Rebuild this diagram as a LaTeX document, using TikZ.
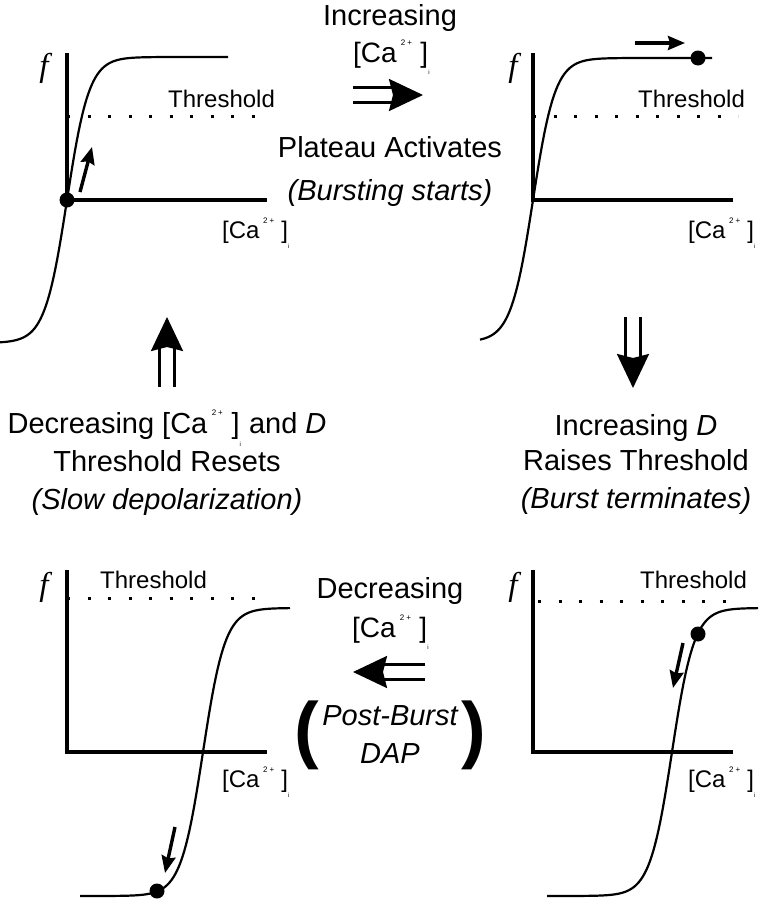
\documentclass[tikz,border=0pt]{standalone}
\usepackage{fontspec}
\setmainfont{Liberation Sans}
\newfontfamily\fserif{Liberation Serif}
\usetikzlibrary{arrows.meta}
% [Ca2+]i as printed on the axes
\newcommand{\cai}{[Ca\hspace{0.15em}\raisebox{0.6em}{\fontsize{8}{8}\selectfont 2\hspace{0.25em}+}\hspace{0.3em}]\raisebox{-0.45em}{\fontsize{6}{6}\selectfont i}}

\begin{document}
\begin{tikzpicture}[x=1pt,y=-1pt,
  axis/.style={line width=3.2pt},
  curve/.style={line width=2.2pt},
  thresh/.style={line width=3pt,dash pattern=on 3pt off 17.5pt},
  dot/.style={circle,fill=black,inner sep=0pt,minimum size=15pt},
  bigarrow/.style={line width=2.6pt,double distance=12pt,-{Stealth[length=34pt,width=32pt,inset=4pt]}},
  smallarrow/.style={line width=3.4pt,-{Stealth[length=17pt,width=14pt,inset=2pt]}},
  lbl/.style={inner sep=0pt,anchor=base west,font=\fontsize{24}{28}\selectfont},
  txt/.style={inner sep=0pt,anchor=base,font=\fontsize{29}{34}\selectfont},
  fl/.style={inner sep=0pt,font=\fontsize{33}{33}\selectfont\fserif\itshape}]
\useasboundingbox (0,0) rectangle (761,900);

% top left: plateau reached
\draw[axis] (67,53) -- (67,200) -- (267,200);
\draw[thresh] (67,116) -- (270,116);
\draw[curve] plot[domain=0:228,samples=120] (\x,{200-143*tanh(0.045*(\x-67))});
\node[dot] (d1) at (67,200) {};
\node[fl] (f1) at (44,68) {f};
\node[lbl] (t1) at (168,107) {Threshold};
\node[lbl] (c1) at (222,238) {\cai};
\coordinate (a1s) at (80,192);
\coordinate (a1e) at (92,147);
\draw[smallarrow] (a1s) -- (a1e);

% top right: bursting
\draw[axis] (533,53) -- (533,200) -- (733,200);
\draw[thresh] (533,116) -- (738,116);
\draw[curve] plot[domain=480:712,samples=120] (\x,{200-142*tanh(0.045*(\x-533))});
\node[dot] (d2) at (698,58) {};
\node[fl] (f2) at (513,68) {f};
\node[lbl] (t2) at (638,107) {Threshold};
\node[lbl] (c2) at (688,238) {\cai};
\coordinate (a2s) at (635,43);
\coordinate (a2e) at (685,43);
\draw[smallarrow] (a2s) -- (a2e);

% bottom right: threshold raised
\draw[axis] (533,570) -- (533,752) -- (733,752);
\draw[thresh] (538,601) -- (738,601);
\draw[curve] plot[domain=547:758,samples=120] (\x,{752-144*tanh(0.045*(\x-672))});
\node[dot] (d3) at (698,634) {};
\node[fl] (f3) at (513,587) {f};
\node[lbl] (t3) at (640,588) {Threshold};
\node[lbl] (c3) at (688,787) {\cai};
\coordinate (a3s) at (683,643);
\coordinate (a3e) at (673,688);
\draw[smallarrow] (a3s) -- (a3e);

% bottom left: post-burst
\draw[axis] (67,570) -- (67,752) -- (267,752);
\draw[thresh] (67,598) -- (267,598);
\draw[curve] plot[domain=80:290,samples=120] (\x,{752-144*tanh(0.045*(\x-203))});
\node[dot] (d4) at (157,891) {};
\node[fl] (f4) at (44,587) {f};
\node[lbl] (t4) at (100,588) {Threshold};
\node[lbl] (c4) at (222,787) {\cai};
\coordinate (a4s) at (175,827);
\coordinate (a4e) at (165,873);
\draw[smallarrow] (a4s) -- (a4e);

% transitions
\coordinate (r1) at (353,95);
\coordinate (r2) at (423,95);
\draw[bigarrow] (r1) -- (r2);
\coordinate (dn1) at (633,317);
\coordinate (dn2) at (633,388);
\draw[bigarrow] (dn1) -- (dn2);
\coordinate (l1) at (425,672);
\coordinate (l2) at (353,672);
\draw[bigarrow] (l1) -- (l2);
\coordinate (up1) at (167,387);
\coordinate (up2) at (167,317);
\draw[bigarrow] (up1) -- (up2);

\node[txt] (inc) at (390,25) {Increasing};
\node[txt,anchor=base west,font=\fontsize{28}{34}\selectfont] (cinc) at (353,62) {\cai};
\node[txt] (pla) at (390,157) {Plateau Activates};
\node[txt] (bst) at (390,200) {\itshape (Bursting starts)};

\node[txt] (incd) at (636,435) {Increasing \textit{D}};
\node[txt] (rai) at (636,470) {Raises Threshold};
\node[txt] (ter) at (636,508) {\itshape (Burst terminates)};

\node[txt] (dec) at (390,598) {Decreasing};
\node[txt,anchor=base west,font=\fontsize{28}{34}\selectfont] (cdec) at (352,637) {\cai};
\node[txt] (pbu) at (390,725) {\itshape Post-Burst};
\node[txt] (dap) at (390,763) {\itshape DAP};
\node[inner sep=0pt,font=\fontsize{74}{74}\selectfont\bfseries] (lp) at (307,735) {(};
\node[inner sep=0pt,font=\fontsize{74}{74}\selectfont\bfseries] (rp) at (474,735) {)};

\node[txt] (decd) at (167,433) {Decreasing \cai\ and \textit{D}};
\node[txt] (res) at (167,471) {Threshold Resets};
\node[txt] (slo) at (167,509) {\itshape (Slow depolarization)};
\end{tikzpicture}
\end{document}
